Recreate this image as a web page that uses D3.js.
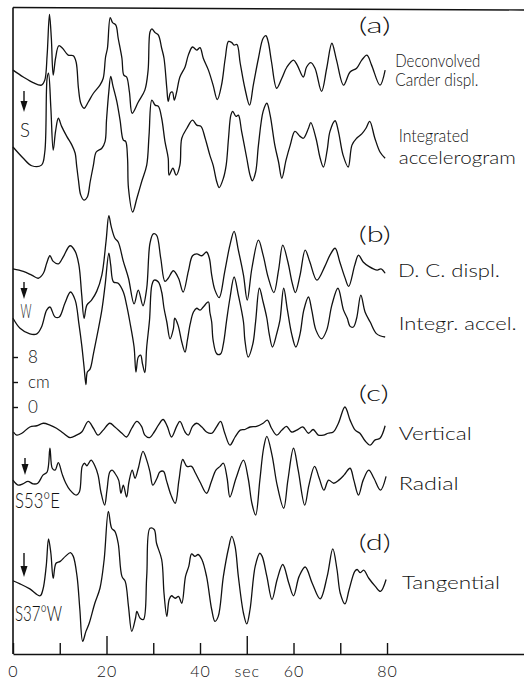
<!DOCTYPE html>
<html>
<head>
<meta charset="utf-8">
<script src="https://cdn.jsdelivr.net/npm/d3@7"></script>
<style>
  html, body { margin: 0; padding: 0; background: #fff; }
  svg { display: block; }
  text { font-family: Lato, "DejaVu Sans", sans-serif; font-weight: 300; fill: #111; }
</style>
</head>
<body>
<svg id="chart" width="524" height="679"></svg>
<script>
// ---- time axis (s) ----
const timeTicks = [0, 10, 20, 30, 40, 50, 60, 70, 80];
const timeTickLabels = { 0: "0", 20: "20", 40: "40", 50: "sec", 60: "60", 80: "80" };
const longTicks = [20, 50];

// ---- displacement scale bar (cm) ----
const scaleTicks = [0, 4, 8];
const scaleTickLabels = { 0: "0", 4: "cm", 8: "8" };

// ---- displacement traces: [time (s), displacement (cm)] ----
const carderDispl = [[0,0],[2.2,-1.1],[4.3,-2.0],[6.1,-2.4],[6.8,-1.6],[7.3,2.4],[7.8,8.9],[8.2,5.1],[8.6,-0.8],[9.1,1.9],[9.8,3.9],[10.6,3.5],[11.8,2.4],[12.9,2.3],[13.5,1.3],[14.0,-2.9],[14.5,-5.3],[15.2,-6.1],[16.1,-5.1],[17.2,-3.7],[18.6,-2.4],[19.3,-1.3],[19.8,2.1],[20.2,3.5],[20.8,8.4],[21.3,7.6],[22.0,7.2],[22.5,5.1],[23.3,1.9],[23.7,-0.8],[24.3,-1.1],[24.9,-3.5],[25.5,-6.9],[26.8,-5.1],[28.2,-3.2],[28.9,0],[29.3,6.1],[29.7,6.6],[30.4,6.0],[31.1,5.6],[31.8,3.5],[32.3,1.9],[32.9,-2.9],[33.2,-5.0],[33.7,-3.6],[34.1,-3.5],[34.5,-4.8],[35.0,-3.5],[35.7,-1.1],[36.8,0.5],[37.5,2.4],[38.4,3.7],[39.3,3.2],[40.0,3.6],[40.7,1.9],[41.8,0],[42.8,-2.4],[43.7,-4.7],[44.6,-2.4],[45.4,1.9],[46.1,4.6],[46.8,4.4],[47.3,4.0],[47.9,4.1],[48.6,1.1],[49.6,-2.9],[50.6,-5.6],[51.4,-2.4],[52.5,1.9],[53.5,5.1],[54.1,5.5],[54.6,4.5],[55.3,1.3],[56.4,-2.9],[57.5,-1.3],[58.6,0.5],[60.0,1.6],[60.8,0.8],[62.1,-1.1],[62.8,0.5],[63.7,1.2],[64.6,0.3],[66.0,-3.4],[67.1,0.3],[68.2,4.3],[69.2,1.6],[70.7,-2.4],[72.1,-0.3],[73.5,0.3],[74.6,1.6],[75.7,2.4],[76.7,0.8],[78.5,-2.4],[79.6,0]];

const integratedAccel = [[0,0],[2.2,-1.8],[4.0,-3.0],[6.1,-2.9],[6.8,-0.8],[7.3,11.0],[7.6,11.8],[8.1,6.2],[8.6,-0.5],[9.1,2.5],[9.7,4.6],[10.4,3.3],[11.5,1.7],[12.6,0.3],[13.3,-1.0],[13.6,-2.9],[14.0,-5.3],[14.5,-7.7],[15.2,-8.5],[15.9,-8.0],[16.5,-5.6],[17.2,-2.9],[17.8,-0.8],[19.0,-0.2],[19.7,0.9],[20.0,4.3],[20.5,8.9],[20.9,11.3],[21.4,9.7],[22.2,7.3],[22.9,4.3],[23.6,1.1],[24.1,0.9],[24.5,-1.8],[24.7,-6.6],[25.6,-10.4],[26.5,-8.2],[27.5,-5.6],[28.6,-2.9],[29.1,1.9],[29.7,7.5],[30.4,6.7],[31.1,6.5],[31.8,4.6],[32.5,0.9],[33.2,-1.8],[33.4,-4.5],[34.2,-3.4],[34.9,-4.5],[35.7,-2.9],[36.1,1.4],[37.2,3.0],[38.4,4.3],[39.3,3.5],[40.2,3.3],[41.1,1.4],[42.1,-1.3],[42.8,-2.9],[43.6,-5.6],[44.1,-6.5],[45.0,-5.0],[45.6,-2.9],[46.1,1.4],[46.6,5.1],[47.0,5.7],[47.7,4.9],[48.2,5.1],[48.9,2.5],[50.0,-1.8],[50.7,-4.5],[51.2,-5.4],[51.9,-4.0],[52.5,0.3],[53.5,5.7],[54.3,7.0],[55.0,5.1],[56.0,0.3],[56.8,-2.4],[57.5,-5.0],[58.4,-2.1],[59.3,0.3],[60.3,2.5],[61.4,1.7],[62.1,1.4],[63.2,3.0],[63.7,3.9],[64.8,1.4],[65.7,-1.8],[66.4,-3.2],[67.2,-0.5],[67.8,2.5],[68.9,4.2],[69.6,2.5],[70.6,-1.3],[71.7,-3.2],[72.5,0.3],[73.5,1.4],[74.6,2.1],[75.5,3.0],[76.3,4.1],[77.4,1.4],[78.5,-0.8],[79.6,-1.8]];

const dcDispl = [[0,0],[2.2,-0.4],[4.0,-1.0],[5.4,-1.5],[6.5,-0.7],[7.2,0.9],[7.9,2.1],[8.6,1.2],[9.7,0.8],[10.8,2.0],[12.2,3.7],[13.3,2.8],[14.1,0.6],[14.7,-4.2],[15.2,-7.9],[15.8,-5.8],[16.8,-5.0],[17.9,-3.6],[19.0,-1.0],[19.9,4.4],[20.5,8.5],[21.0,6.8],[21.8,4.9],[22.5,4.3],[23.6,1.2],[24.7,-1.5],[25.9,-5.6],[26.8,-3.4],[27.8,-5.9],[28.6,-3.1],[29.3,4.1],[30.0,5.6],[30.7,5.4],[31.6,1.7],[32.5,-2.0],[33.2,-1.5],[34.3,-0.3],[35.4,-1.5],[36.4,-3.7],[37.5,-0.4],[38.4,2.1],[39.3,2.4],[40.4,2.1],[41.4,2.7],[42.0,1.7],[42.5,-1.0],[43.2,-3.4],[44.1,-4.6],[45.3,-0.4],[46.4,3.8],[47.3,6.0],[48.2,3.0],[49.3,-1.0],[50.1,-5.0],[51.1,0.1],[52.5,4.6],[53.5,2.2],[54.6,-1.4],[55.8,-3.8],[56.8,-0.2],[57.7,3.8],[58.8,1.1],[59.7,-2.2],[60.4,-3.8],[61.4,-1.0],[62.5,3.0],[63.5,1.1],[65.0,-1.8],[66.7,0.4],[67.8,2.2],[68.9,3.3],[69.9,1.1],[71.0,-1.4],[71.8,-2.8],[73.1,0.6],[73.9,2.2],[74.9,1.1],[76.1,0.4],[77.9,-0.2],[78.7,0],[79.6,-0.7]];

const integrAccel = [[0,0],[1.5,-1.6],[3.6,-2.5],[5.1,-2.5],[6.1,-1.4],[7.2,1.3],[7.9,1.8],[9.0,0.2],[9.9,0.2],[11.1,2.4],[12.3,4.2],[13.3,2.9],[14.1,-0.9],[14.7,-4.3],[15.2,-7.8],[15.6,-10.6],[15.9,-8.6],[16.5,-8.1],[17.2,-5.7],[18.0,-2.7],[19.0,1.3],[19.7,5.3],[20.5,10.4],[20.9,8.5],[21.5,5.8],[22.5,5.6],[23.6,4.2],[24.3,2.1],[25.0,-0.6],[25.9,-4.6],[26.3,-8.6],[26.8,-6.2],[27.3,-5.9],[27.7,-7.3],[28.2,-8.7],[28.6,-4.6],[29.2,-0.3],[29.7,5.3],[30.2,6.1],[31.1,5.8],[31.8,4.2],[32.3,1.6],[32.9,-0.6],[33.6,-3.3],[34.3,-1.7],[34.6,0],[35.3,-1.1],[36.1,-3.8],[36.8,-5.4],[37.3,-3.5],[37.9,-0.9],[38.6,1.0],[39.3,1.6],[40.0,1.3],[40.7,1.8],[41.8,2.6],[42.1,1.0],[42.5,-0.6],[42.8,-3.5],[43.6,-5.7],[44.4,-5.7],[45.0,-4.1],[45.7,-0.3],[46.4,3.2],[47.3,6.6],[48.2,3.7],[49.3,-0.6],[49.6,-3.5],[50.3,-6.2],[51.3,-4.1],[51.9,-0.5],[52.7,4.8],[53.5,2.6],[54.3,0],[54.8,-2.5],[55.5,-4.6],[56.4,-2.5],[57.1,-0.3],[57.9,4.8],[58.7,1.3],[59.6,-2.5],[60.5,-4.6],[61.4,-2.5],[62.2,1.3],[63.2,3.4],[63.9,1.3],[64.8,-1.9],[66.0,-3.3],[67.1,-1.9],[68.2,2.1],[69.5,4.8],[70.7,1.3],[71.5,0],[72.1,-1.3],[72.8,-1.4],[73.5,0],[74.4,3.7],[75.3,1.0],[76.4,-0.6],[77.8,-2.5],[79.6,-3.0]];

const vertical = [[0.1,0.0],[0.8,-0.5],[1.9,-0.2],[3.6,0.8],[5.1,1.0],[6.5,1.4],[7.9,1.1],[9.3,0.6],[10.8,-0.2],[12.2,-0.9],[13.6,-0.5],[14.7,0.0],[16.1,1.7],[17.2,0.6],[18.2,-0.5],[19.3,0.3],[20.7,1.4],[21.8,0.8],[23.3,-0.2],[24.3,-0.8],[25.4,0.6],[26.5,1.7],[27.5,0.9],[28.2,-0.5],[29.2,-0.9],[30.2,0.0],[31.1,1.1],[32.1,2.0],[33.0,0.9],[33.9,-0.8],[35.0,0.9],[35.7,1.7],[36.8,0.0],[37.5,-0.5],[38.4,0.9],[39.3,1.4],[40.4,0.8],[41.4,0.0],[42.5,-0.2],[43.6,0.9],[44.4,1.7],[45.3,-0.2],[46.4,-2.1],[47.5,-0.8],[48.6,0.3],[49.6,0.4],[50.7,0.8],[52.1,0.9],[53.5,1.4],[54.4,1.9],[55.3,0.6],[56.4,-0.5],[57.5,0.3],[58.5,0.9],[59.6,0.0],[60.7,0.3],[62.0,0.8],[63.2,-0.2],[64.2,0.4],[65.3,-0.5],[66.4,-0.5],[67.4,-0.2],[68.5,0.0],[69.6,1.4],[71.0,4.0],[72.1,1.9],[73.2,0.3],[74.2,-0.2],[75.3,-1.4],[76.4,-2.1],[77.4,-1.3],[78.5,-1.0],[79.6,1.0]];

const radial = [[0.0,0.3],[1.1,-0.5],[2.1,-0.3],[3.2,0.1],[4.3,-0.3],[5.3,-0.2],[6.4,1.1],[7.3,1.6],[7.9,5.4],[8.4,2.2],[9.0,1.9],[9.7,3.1],[10.5,1.3],[11.3,-0.2],[12.2,-1.3],[13.5,-2.1],[14.2,-1.6],[14.8,2.5],[15.3,3.0],[15.8,2.6],[16.7,3.5],[17.5,2.6],[18.2,1.1],[18.8,-1.6],[19.6,-3.7],[20.1,-1.3],[20.7,1.6],[21.2,1.9],[21.8,1.4],[22.6,0.3],[23.1,-1.8],[23.6,-0.5],[24.3,-2.4],[24.8,0.0],[25.5,1.9],[26.1,0.6],[26.8,2.2],[27.8,4.9],[28.6,3.5],[29.3,1.6],[29.9,-0.5],[30.8,0.6],[31.4,1.6],[32.2,1.7],[32.8,0.3],[33.8,-2.1],[34.7,-3.4],[35.5,0.3],[36.3,3.6],[37.2,2.5],[38.2,2.5],[38.9,1.6],[40.0,0.0],[41.4,-1.8],[42.4,0.0],[43.4,1.9],[44.3,2.5],[45.0,3.0],[45.8,0.6],[46.4,-2.4],[47.7,0.6],[49.3,3.5],[50.3,0.6],[51.1,-3.4],[51.9,-5.3],[52.8,0.3],[53.6,5.4],[54.3,7.3],[55.4,4.3],[56.5,-0.5],[57.9,-4.2],[58.8,0.3],[60.0,5.4],[61.0,1.9],[62.4,-3.7],[63.3,-0.5],[64.5,2.5],[65.5,0.6],[66.5,-1.3],[67.5,0.3],[68.6,-0.2],[69.7,0.3],[70.8,1.1],[72.1,2.2],[72.9,0.3],[73.9,-2.1],[74.9,0.3],[76.1,1.9],[77.2,0.6],[78.6,-1.3],[79.8,0.9]];

const tangential = [[0.0,0.0],[1.5,-0.5],[3.6,-1.3],[5.8,-2.4],[6.4,-1.4],[7.1,2.3],[7.6,6.7],[8.1,4.4],[8.6,0.4],[9.2,2.8],[10.1,3.1],[11.2,3.9],[12.3,4.5],[12.9,3.9],[13.7,0.7],[14.3,-4.6],[14.9,-9.7],[15.6,-8.1],[16.3,-6.8],[17.5,-3.6],[18.6,-1.2],[19.5,3.4],[20.4,11.1],[21.1,8.4],[21.8,7.9],[22.5,6.0],[23.3,0.7],[24.0,-0.1],[24.7,-4.1],[25.4,-8.1],[26.2,-6.0],[26.5,-4.9],[27.2,-6.0],[27.9,-6.2],[28.6,0.7],[29.3,8.4],[30.2,8.2],[30.7,6.0],[31.8,3.4],[32.3,-2.0],[32.9,-5.7],[33.4,-3.0],[33.9,-2.4],[34.7,-2.8],[35.4,-2.5],[36.1,-3.6],[36.9,0.7],[37.6,2.3],[38.2,4.3],[38.9,3.9],[39.6,4.2],[40.4,3.4],[41.4,0.7],[42.5,-4.6],[43.2,-6.5],[43.9,-5.7],[45.0,0.7],[46.1,5.2],[46.8,7.1],[47.5,5.5],[48.2,0.7],[49.3,-5.2],[50.0,-6.9],[50.7,-4.6],[51.8,2.3],[52.8,4.4],[53.3,3.9],[54.3,0.7],[55.4,-3.0],[56.5,0.2],[57.7,2.6],[59.0,-0.4],[60.0,-2.4],[61.2,0.7],[62.5,2.2],[64.0,-0.4],[65.7,-2.9],[67.2,0.7],[68.4,5.1],[69.3,1.8],[70.0,-2.0],[71.0,-3.7],[71.9,-1.4],[73.1,1.5],[73.6,1.8],[74.3,1.3],[75.0,1.7],[76.1,0.4],[77.5,-0.9],[78.6,-1.7],[79.8,0.2]];

// ---- layout ----
const W = 524, H = 679;
const frame = { left: 13, right: 524, top: 7.5, topRight: 10, bottom: 654 };
const x = d3.scaleLinear().domain([0, 109.3]).range([frame.left, frame.right]);
// 0 cm and 8 cm of the scale bar; traces are stacked by offsets in cm
const y = d3.scaleLinear().domain([0, 8]).range([407, 357]);

const traces = [
  { data: carderDispl,     offset: 53.9 },
  { data: integratedAccel, offset: 41.6 },
  { data: dcDispl,         offset: 22.1 },
  { data: integrAccel,     offset: 14.2 },
  { data: vertical,        offset: -4.0 },
  { data: radial,          offset: -12.0 },
  { data: tangential,      offset: -27.8 }
];

const ink = "#111";
const svg = d3.select("#chart");
svg.append("rect").attr("width", W).attr("height", H).attr("fill", "#fff");

// frame lines
svg.append("line")
  .attr("x1", frame.left).attr("x2", frame.left)
  .attr("y1", frame.top).attr("y2", frame.bottom)
  .attr("stroke", ink).attr("stroke-width", 1.6);
svg.append("line")
  .attr("x1", frame.left).attr("x2", frame.right)
  .attr("y1", frame.top).attr("y2", frame.topRight)
  .attr("stroke", ink).attr("stroke-width", 1.4);

// time axis along the bottom, ticks pointing up
const xAxis = svg.append("g")
  .attr("transform", `translate(0,${frame.bottom})`)
  .call(d3.axisBottom(x)
    .tickValues(timeTicks)
    .tickSize(-11)
    .tickSizeOuter(0)
    .tickPadding(12)
    .tickFormat(d => timeTickLabels[d] || ""));
xAxis.select(".domain").attr("stroke", ink).attr("stroke-width", 1.6);
xAxis.selectAll(".tick line").attr("stroke", ink).attr("stroke-width", 1.4)
  .attr("y2", d => longTicks.includes(d) ? -18 : -11);
xAxis.selectAll(".tick text")
  .attr("font-family", "Lato, 'DejaVu Sans', sans-serif")
  .attr("font-weight", 300)
  .attr("font-size", 16).attr("fill", ink)
  .attr("letter-spacing", 1);

// displacement scale bar on the left edge
const yAxis = svg.append("g")
  .attr("transform", `translate(${frame.left},0)`)
  .call(d3.axisRight(y)
    .tickValues(scaleTicks)
    .tickSize(5)
    .tickPadding(10)
    .tickFormat(d => scaleTickLabels[d]));
yAxis.select(".domain").remove();
yAxis.selectAll(".tick line").attr("stroke", ink).attr("stroke-width", 1.4);
yAxis.selectAll(".tick text")
  .attr("font-family", "Lato, 'DejaVu Sans', sans-serif")
  .attr("font-weight", 300)
  .attr("font-size", 17).attr("fill", ink);

// traces
const line = d3.line().curve(d3.curveCatmullRom.alpha(0.5));
svg.append("g").selectAll("path")
  .data(traces)
  .join("path")
  .attr("d", tr => line(tr.data.map(d => [x(d[0]), y(d[1] + tr.offset)])))
  .attr("fill", "none")
  .attr("stroke", ink)
  .attr("stroke-width", 1.3)
  .attr("stroke-linejoin", "round");

// S-wave arrival arrows
const arrows = [
  { x: 24, y1: 91, y2: 112 },
  { x: 24, y1: 282, y2: 299 },
  { x: 25, y1: 458, y2: 475 },
  { x: 24, y1: 553, y2: 577 }
];
const ag = svg.append("g");
arrows.forEach(a => {
  ag.append("line").attr("x1", a.x).attr("x2", a.x)
    .attr("y1", a.y1).attr("y2", a.y2 - 6)
    .attr("stroke", ink).attr("stroke-width", 1.4);
  ag.append("path")
    .attr("d", `M${a.x - 3.5},${a.y2 - 11} L${a.x + 3.5},${a.y2 - 11} L${a.x},${a.y2} Z`)
    .attr("fill", ink);
});

// text labels
const labels = [
  { t: "S",              x: 20,    y: 137,   size: 19, len: 10 },
  { t: "W",              x: 20.5,  y: 318,   size: 20, len: 11 },
  { t: "S53°E",          x: 15,    y: 508,   size: 21, len: 45 },
  { t: "S37°W",          x: 15,    y: 621,   size: 21, len: 47 },
  { t: "(a)",            x: 358.7, y: 33,    size: 21, len: 32 },
  { t: "(b)",            x: 358.7, y: 241.5, size: 21, len: 32 },
  { t: "(c)",            x: 358.7, y: 401,   size: 21, len: 30 },
  { t: "(d)",            x: 358.7, y: 550,   size: 21, len: 32 },
  { t: "Deconvolved",    x: 395.3, y: 67,    size: 17, len: 85 },
  { t: "Carder displ.",  x: 395.3, y: 86,    size: 17, len: 83 },
  { t: "Integrated",     x: 398.7, y: 142,   size: 17, len: 70 },
  { t: "accelerogram",   x: 398.7, y: 163.5, size: 17, len: 117 },
  { t: "D. C. displ.",   x: 398,   y: 277,   size: 17, len: 102 },
  { t: "Integr. accel.", x: 398.7, y: 329.5, size: 17, len: 118 },
  { t: "Vertical",       x: 398.7, y: 440,   size: 17, len: 73 },
  { t: "Radial",         x: 398.7, y: 490,   size: 17, len: 60 },
  { t: "Tangential",     x: 402,   y: 588.5, size: 17, len: 98 }
];
svg.append("g").selectAll("text")
  .data(labels)
  .join("text")
  .attr("x", d => d.x)
  .attr("y", d => d.y)
  .attr("font-size", d => d.size)
  .attr("textLength", d => d.len)
  .attr("lengthAdjust", "spacingAndGlyphs")
  .text(d => d.t);
</script>
</body>
</html>
